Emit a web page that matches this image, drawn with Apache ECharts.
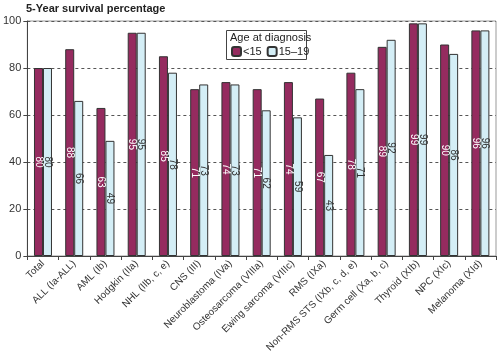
<!DOCTYPE html>
<html>
<head>
<meta charset="utf-8">
<script src="https://cdn.jsdelivr.net/npm/echarts@6/dist/echarts.min.js"></script>
<style>html,body{margin:0;padding:0;background:#fff}#c{width:500px;height:355px}</style>
</head>
<body>
<div id="c"></div>
<script>
var categories = ["Total","ALL (Ia-ALL)","AML (Ib)","Hodgkin (IIa)","NHL (IIb, c, e)","CNS (III)","Neuroblastoma (IVa)","Osteosarcoma (VIIIa)","Ewing sarcoma (VIIIc)","RMS (IXa)","Non-RMS STS (IXb, c, d, e)","Germ cell (Xa, b, c)","Thyroid (XIb)","NPC (XIc)","Melanoma (XId)"];
var under15 = [80,88,63,95,85,71,74,71,74,67,78,89,99,90,96];
var age15to19 = [80,66,49,95,78,73,73,62,59,43,71,92,99,86,96];
var yTicks = [0,20,40,60,80,100];

var font = "Liberation Sans, Arial, sans-serif";
var chart = echarts.init(document.getElementById('c'), null, {renderer:'canvas'});
chart.setOption({
  animation:false,
  backgroundColor:'#fff',
  title:{text:'5-Year survival percentage',left:26,top:3,padding:0,textStyle:{fontFamily:font,fontSize:11,fontWeight:'bold',color:'#222'}},
  grid:{left:26,right:4,top:21,bottom:99,show:true,borderColor:'#999',borderWidth:1},
  legend:{data:['<15','15–19'],left:231,top:46,itemWidth:9,itemHeight:9,itemGap:5,padding:0,
    textStyle:{fontFamily:font,fontSize:11,color:'#222',padding:[0,0,0,-3]}},
  graphic:[
    {type:'rect',left:226,top:30,shape:{width:80,height:29},style:{fill:'#fff',stroke:'#444',lineWidth:1},z:0},
    {type:'text',left:230,top:32,style:{text:'Age at diagnosis',font:'11px '+font,fill:'#222'},z:1}
  ],
  xAxis:{type:'category',data:categories,
    axisLine:{lineStyle:{color:'#444'}},axisTick:{show:true,alignWithLabel:false,length:4,lineStyle:{color:'#444'}},
    axisLabel:{interval:0,rotate:45,fontFamily:font,fontSize:10,color:'#333',margin:6}},
  yAxis:{type:'value',min:yTicks[0],max:yTicks[yTicks.length-1],interval:20,
    axisLine:{show:true,lineStyle:{color:'#444'}},axisTick:{show:true,length:4,lineStyle:{color:'#444'}},
    axisLabel:{fontFamily:font,fontSize:11,color:'#333',margin:6},
    splitLine:{show:true,lineStyle:{type:[3,3],color:'#555'}}},
  series:[
    {name:'<15',type:'bar',data:under15,barWidth:9,barGap:'0%',
      itemStyle:{color:'#952b5f',borderColor:'#333',borderWidth:1},
      label:{show:true,position:'inside',rotate:-90,fontFamily:font,fontSize:10,color:'#fff'}},
    {name:'15–19',type:'bar',data:age15to19,barWidth:9,
      itemStyle:{color:'#d4eef6',borderColor:'#333',borderWidth:1},
      label:{show:true,position:'inside',rotate:-90,fontFamily:font,fontSize:10,color:'#333'}}
  ]
});
</script>
</body>
</html>
